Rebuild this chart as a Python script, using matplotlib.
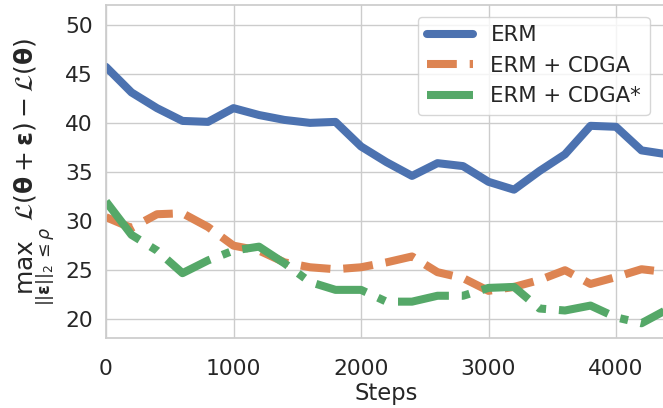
import matplotlib
matplotlib.use("Agg")
import matplotlib.pyplot as plt
import seaborn as sns
import numpy as np

# data (every 200 steps)
steps = np.arange(0, 4401, 200)
erm = [45.7, 43.1, 41.5, 40.2, 40.1, 41.5, 40.8, 40.3, 40.0, 40.1, 37.6, 36.0,
       34.6, 35.9, 35.6, 34.0, 33.2, 35.1, 36.8, 39.7, 39.6, 37.2, 36.8]
cdga = [30.4, 29.3, 30.7, 30.8, 29.4, 27.5, 27.0, 25.8, 25.3, 25.1, 25.3, 25.8,
        26.4, 24.8, 24.2, 22.9, 23.3, 24.0, 25.0, 23.6, 24.3, 25.1, 24.8]
cdga_star = [32.0, 28.6, 27.0, 24.7, 26.0, 27.0, 27.4, 25.7, 23.8, 23.0, 23.0, 21.8,
             21.8, 22.4, 22.4, 23.2, 23.3, 21.1, 20.9, 21.4, 20.2, 19.6, 21.0]

sns.set_theme(style="whitegrid")
plt.rcParams['font.family'] = ['DejaVu Sans']

fig = plt.figure(figsize=(6.63, 4.08), dpi=100)
ax = fig.add_axes([106 / 663, 70 / 408, 561 / 663, 333 / 408])

lw = 5.8
ax.plot(steps, erm, color='#4C72B0', lw=lw, ls='-', label='ERM')
ax.plot(steps, cdga, color='#DD8452', lw=lw, ls='--', label='ERM + CDGA')
ax.plot(steps, cdga_star, color='#55A868', lw=lw, ls='-.', label='ERM + CDGA*')

ax.set_xlim(0, 4400)
ax.set_ylim(18.1, 52)
ax.set_xticks([0, 1000, 2000, 3000, 4000])
ax.set_yticks([20, 25, 30, 35, 40, 45, 50])
ax.tick_params(labelsize=15.7)
ax.tick_params(axis='x', pad=9)
ax.set_xlabel("Steps", fontsize=16.3, labelpad=2)
ax.set_ylabel(r"$\max_{||\mathbf{\varepsilon}||_2 \leq \rho}\ \mathcal{L}(\mathbf{\theta}+\mathbf{\varepsilon}) - \mathcal{L}(\mathbf{\theta})$",
              fontsize=18, labelpad=6)
ax.legend(loc='upper right', fontsize=15.3, handlelength=2.2, framealpha=0.8,
          bbox_to_anchor=(0.988, 0.997))

fig.savefig("out.png", dpi=100)
